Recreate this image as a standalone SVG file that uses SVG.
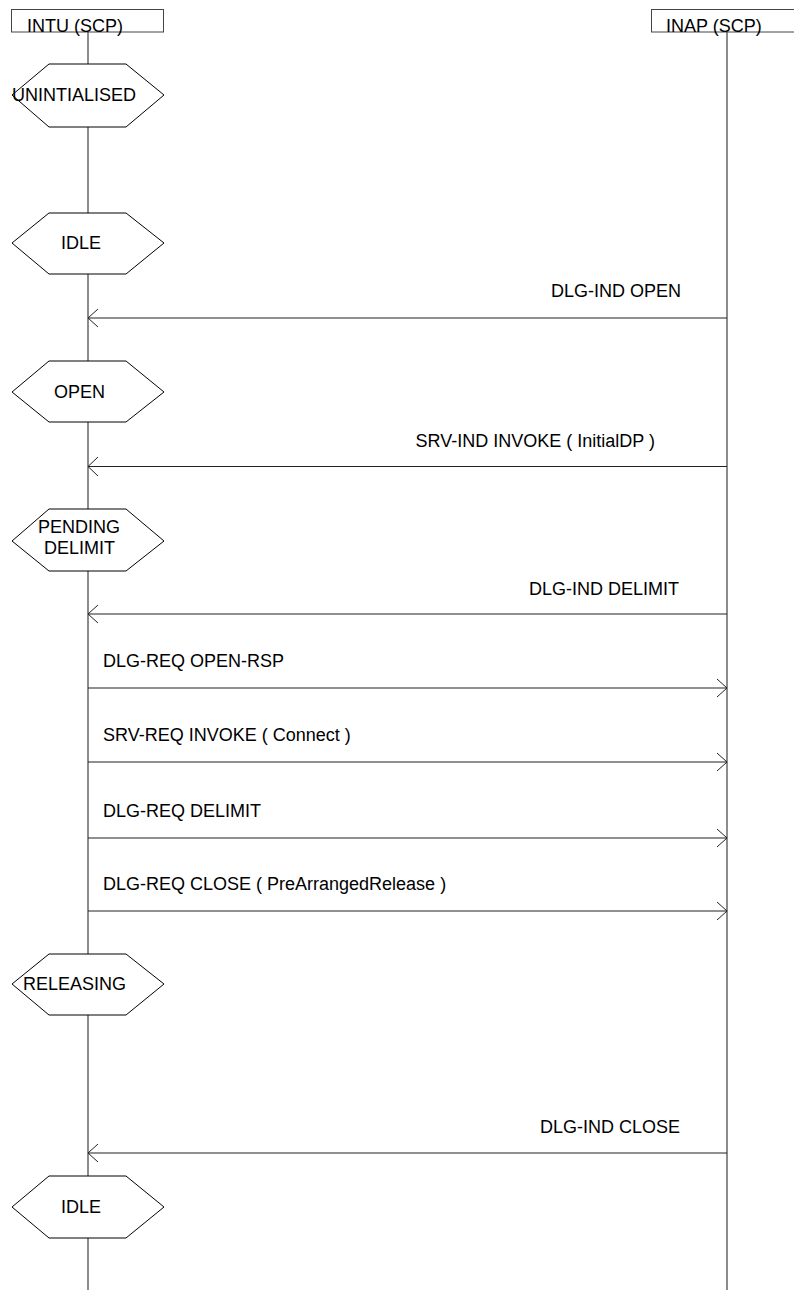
<svg xmlns="http://www.w3.org/2000/svg" width="794" height="1290" viewBox="0 0 794 1290">
<style>
text{font-family:"Liberation Sans",Arial,sans-serif;font-size:18px;fill:#000}
.box{fill:#fff;stroke:#444;stroke-width:1}
.life{stroke:#666;stroke-width:1.5;fill:none}
.hex{fill:#fff;stroke:#000;stroke-width:1}
.msg{stroke:#222;stroke-width:1.2;fill:none}
.ah{stroke:#222;stroke-width:1;fill:none}
.end{text-anchor:end}
</style>
<g id="lifelines">
<line class="life" x1="88" y1="32" x2="88" y2="1290"/>
<line class="life" x1="727" y1="32" x2="727" y2="1290"/>
</g>
<g id="intu">
<rect class="box" x="11.5" y="9.5" width="152" height="22.5"/>
<text x="27" y="32">INTU (SCP)</text>
</g>
<g id="inap">
<rect class="box" x="651.5" y="9.5" width="150" height="22.5"/>
<text x="666" y="32">INAP (SCP)</text>
</g>
<g id="state-unintialised">
<polygon class="hex" points="12,95 49,64 126,64 164,95 126,127 49,127"/>
<text x="12" y="101">UNINTIALISED</text>
</g>
<g id="state-idle1">
<polygon class="hex" points="12,243 49,213 126,213 164,243 126,274 49,274"/>
<text x="61" y="249">IDLE</text>
</g>
<g id="state-open">
<polygon class="hex" points="12,392 49,361 126,361 164,392 126,422 49,422"/>
<text x="54" y="398">OPEN</text>
</g>
<g id="state-pending">
<polygon class="hex" points="12,541 49,509 126,509 164,541 126,571 49,571"/>
<text x="38" y="533">PENDING</text>
<text x="44" y="554">DELIMIT</text>
</g>
<g id="state-releasing">
<polygon class="hex" points="12,984 49,954 126,954 164,984 126,1015 49,1015"/>
<text x="23" y="990">RELEASING</text>
</g>
<g id="state-idle2">
<polygon class="hex" points="12,1207 49,1176 126,1176 164,1207 126,1238 49,1238"/>
<text x="61" y="1213">IDLE</text>
</g>
<g id="connectors">
<line class="msg" x1="727" y1="318" x2="88" y2="318"/>
<polyline class="ah" points="98,309 88,318 98,327"/>
<line class="msg" x1="727" y1="466.5" x2="88" y2="466.5"/>
<polyline class="ah" points="98,457 88,466.5 98,476"/>
<line class="msg" x1="727" y1="614" x2="88" y2="614"/>
<polyline class="ah" points="98,605 88,614 98,623"/>
<line class="msg" x1="88" y1="688" x2="727" y2="688"/>
<polyline class="ah" points="717,679 727,688 717,697"/>
<line class="msg" x1="88" y1="762" x2="727" y2="762"/>
<polyline class="ah" points="717,753 727,762 717,771"/>
<line class="msg" x1="88" y1="838" x2="727" y2="838"/>
<polyline class="ah" points="717,829 727,838 717,847"/>
<line class="msg" x1="88" y1="911" x2="727" y2="911"/>
<polyline class="ah" points="717,902 727,911 717,920"/>
<line class="msg" x1="727" y1="1153" x2="88" y2="1153"/>
<polyline class="ah" points="98,1144 88,1153 98,1162"/>
</g>
<g id="labels">
<text class="end" x="681" y="297">DLG-IND OPEN</text>
<text class="end" x="655" y="447">SRV-IND INVOKE ( InitialDP )</text>
<text class="end" x="679" y="595">DLG-IND DELIMIT</text>
<text x="103" y="667">DLG-REQ OPEN-RSP</text>
<text x="103" y="741">SRV-REQ INVOKE ( Connect )</text>
<text x="103" y="817">DLG-REQ DELIMIT</text>
<text x="103" y="890">DLG-REQ CLOSE ( PreArrangedRelease )</text>
<text class="end" x="680" y="1133">DLG-IND CLOSE</text>
</g>
</svg>
